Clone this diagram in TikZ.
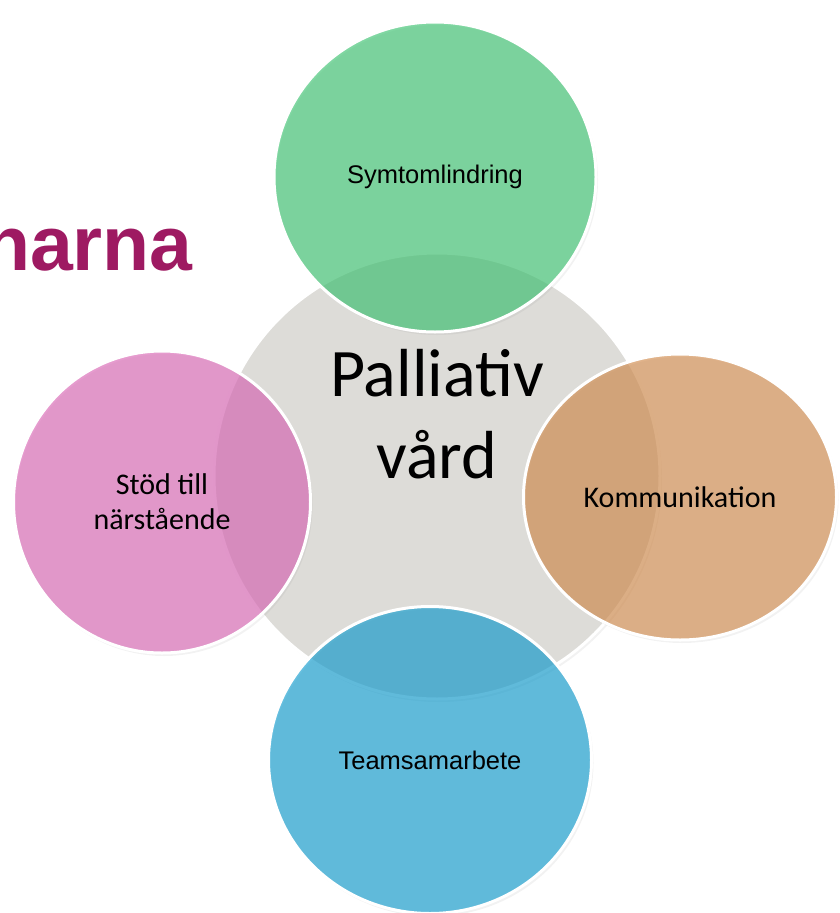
\documentclass[tikz,border=0pt]{standalone}
\usepackage{fontspec}
\usepackage{tikz}
\usetikzlibrary{shapes.geometric,shadows,positioning}
\newfontfamily\calibrifont{Carlito}
\newfontfamily\arialfont{Liberation Sans}
\definecolor{pvgrey}{RGB}{221,220,216}
\definecolor{symgreen}{RGB}{60,194,112}
\definecolor{stodpink}{RGB}{216,102,180}
\definecolor{kommorange}{RGB}{208,138,76}
\definecolor{teamblue}{RGB}{18,156,206}
\definecolor{titlemagenta}{RGB}{158,26,98}

\begin{document}
\begin{tikzpicture}[x=1pt,y=-1pt,
  main node/.style={ellipse,draw=white,line width=3pt,inner sep=0pt,align=center,
    drop shadow={opacity=0.1,shadow xshift=2pt,shadow yshift=-3pt}},
  part node/.style={main node,fill opacity=0.65,text opacity=1}]

  \clip (0,0) rectangle (840,913);

  \node[anchor=base east,inner sep=0pt,text=titlemagenta,
        font=\arialfont\bfseries\fontsize{77}{80}\selectfont] (title) at (193,270) {narna};

  \node[main node,fill=pvgrey,minimum width=446pt,minimum height=446pt] (pv) at (437,476) {};

  \node[part node,fill=symgreen,minimum width=322pt,minimum height=310pt,
        font=\arialfont\fontsize{25.5}{30}\selectfont] (sym) at (435,177) {Symtomlindring};
  \node[part node,fill=stodpink,minimum width=297pt,minimum height=302pt,
        font=\calibrifont\fontsize{30}{35}\selectfont] (stod) at (162,502) {Stöd till\\närstående};
  \node[part node,fill=kommorange,minimum width=313pt,minimum height=286pt,
        font=\calibrifont\fontsize{30}{35}\selectfont] (komm) at (680,497) {Kommunikation};
  \node[part node,fill=teamblue,minimum width=323pt,minimum height=307pt,
        font=\arialfont\fontsize{25.5}{30}\selectfont] (team) at (430,760) {Teamsamarbete};

  \node[font=\calibrifont\fontsize{68}{82}\selectfont,align=center] (pvtext) at (437,414) {Palliativ\\vård};

\end{tikzpicture}
\end{document}
